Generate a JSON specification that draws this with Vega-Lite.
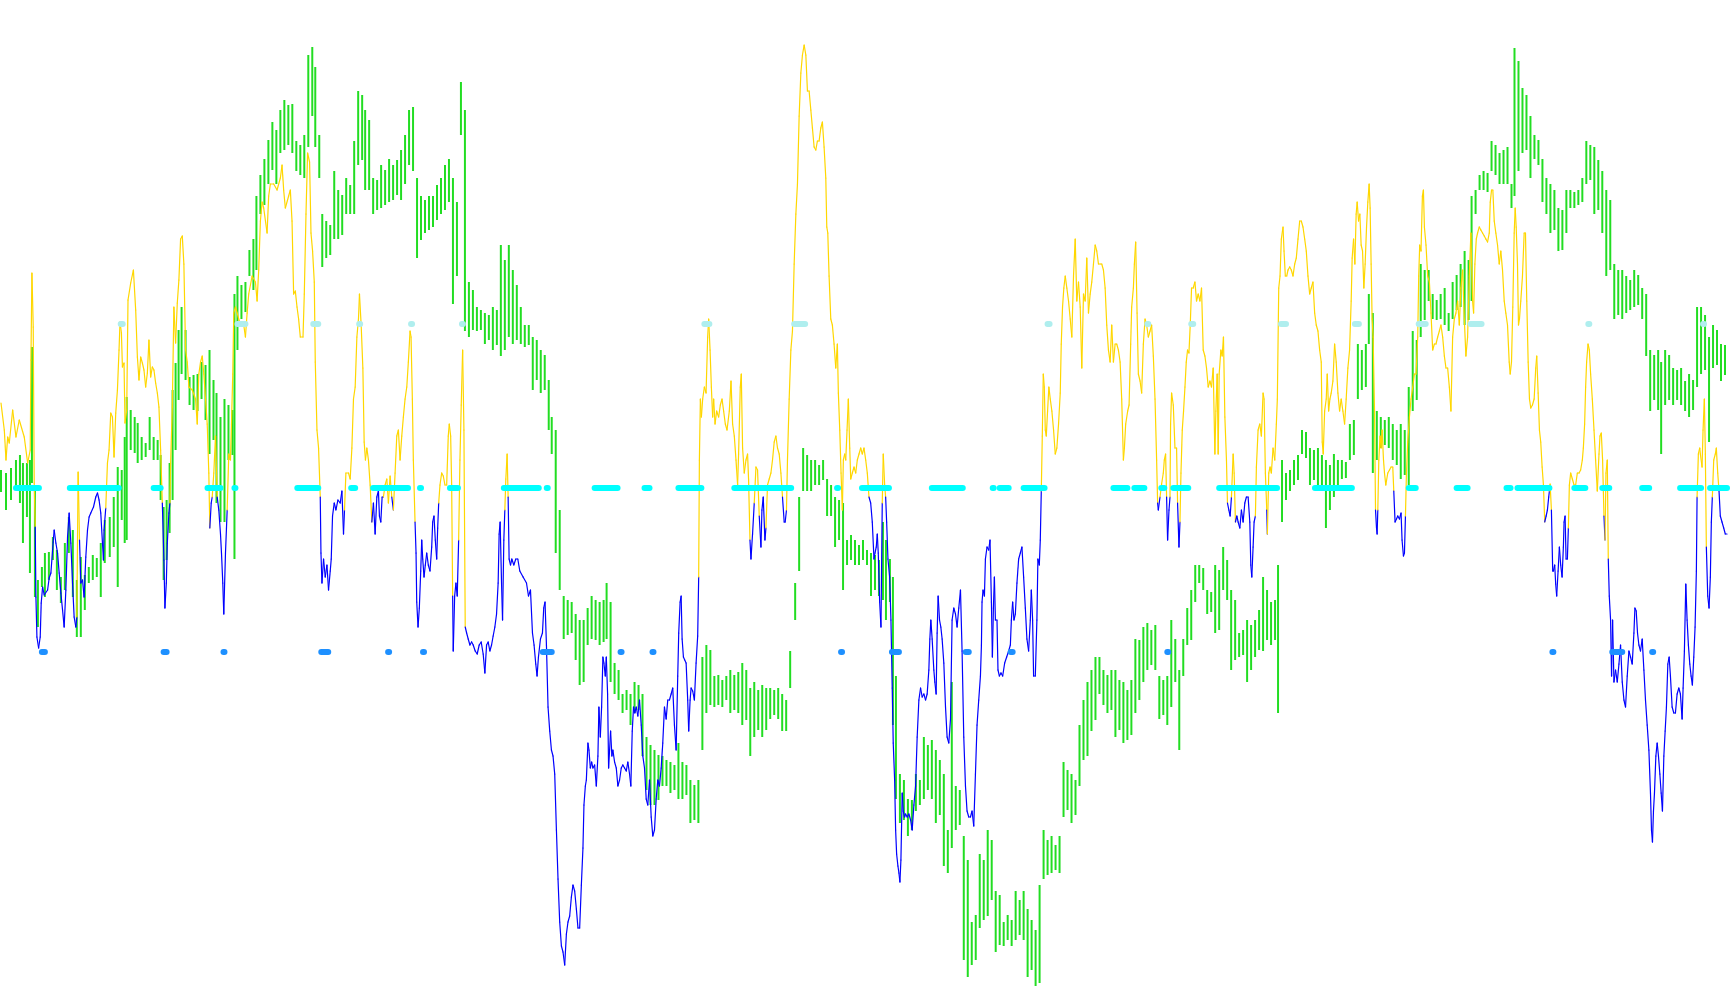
{
"$schema": "https://vega.github.io/schema/vega-lite/v6.json",
"width": 1730, "height": 1005,
"autosize": {"type": "fit", "contains": "padding"},
"padding": 0,
"background": "white",
"config": {"view": {"stroke": null}},
"datasets": {
"bars": [
{"x":0,"top":470,"bot":492},{"x":5,"top":473,"bot":510},{"x":10,"top":468,"bot":500},{"x":15,"top":460,"bot":490},{"x":19,"top":455,"bot":503},{"x":22,"top":463,"bot":543},{"x":26,"top":463,"bot":517},{"x":29,"top":460,"bot":573},{"x":31,"top":347,"bot":483},{"x":34,"top":490,"bot":597},{"x":37,"top":580,"bot":627},{"x":41,"top":567,"bot":587},{"x":44,"top":553,"bot":597},{"x":48,"top":552,"bot":580},{"x":52,"top":537,"bot":560},{"x":56,"top":550,"bot":590},{"x":60,"top":577,"bot":603},{"x":64,"top":543,"bot":590},{"x":68,"top":517,"bot":553},{"x":72,"top":530,"bot":597},{"x":76,"top":580,"bot":637},{"x":80,"top":557,"bot":637},{"x":84,"top":575,"bot":610},{"x":88,"top":567,"bot":583},{"x":92,"top":555,"bot":580},{"x":96,"top":558,"bot":577},{"x":100,"top":543,"bot":597},{"x":104,"top":520,"bot":563},{"x":109,"top":517,"bot":557},{"x":113,"top":497,"bot":547},{"x":117,"top":467,"bot":587},{"x":121,"top":470,"bot":520},{"x":124,"top":437,"bot":543},{"x":126,"top":397,"bot":540},{"x":130,"top":410,"bot":450},{"x":134,"top":417,"bot":453},{"x":137,"top":423,"bot":463},{"x":141,"top":437,"bot":460},{"x":145,"top":443,"bot":457},{"x":149,"top":417,"bot":450},{"x":153,"top":437,"bot":460},{"x":157,"top":440,"bot":460},{"x":160,"top":455,"bot":500},{"x":163,"top":507,"bot":580},{"x":166,"top":500,"bot":560},{"x":169,"top":463,"bot":533},{"x":172,"top":390,"bot":500},{"x":175,"top":363,"bot":450},{"x":178,"top":330,"bot":400},{"x":181,"top":307,"bot":374},{"x":185,"top":330,"bot":380},{"x":189,"top":377,"bot":405},{"x":193,"top":375,"bot":410},{"x":197,"top":374,"bot":411},{"x":201,"top":362,"bot":399},{"x":205,"top":365,"bot":420},{"x":209,"top":350,"bot":454},{"x":213,"top":380,"bot":440},{"x":216,"top":393,"bot":503},{"x":220,"top":417,"bot":522},{"x":224,"top":399,"bot":522},{"x":228,"top":405,"bot":460},{"x":232,"top":410,"bot":455},{"x":234,"top":294,"bot":559},{"x":237,"top":276,"bot":350},{"x":241,"top":285,"bot":319},{"x":245,"top":282,"bot":312},{"x":249,"top":250,"bot":276},{"x":253,"top":239,"bot":290},{"x":256,"top":196,"bot":270},{"x":260,"top":175,"bot":214},{"x":264,"top":159,"bot":205},{"x":268,"top":140,"bot":184},{"x":272,"top":122,"bot":170},{"x":276,"top":130,"bot":184},{"x":280,"top":110,"bot":153},{"x":284,"top":100,"bot":150},{"x":288,"top":105,"bot":145},
{"x":292,"top":104,"bot":153},{"x":296,"top":141,"bot":171},{"x":300,"top":145,"bot":175},{"x":304,"top":135,"bot":178},{"x":308,"top":55,"bot":147},{"x":312,"top":47,"bot":116},{"x":315,"top":67,"bot":147},{"x":319,"top":135,"bot":178},{"x":322,"top":214,"bot":267},{"x":326,"top":221,"bot":258},{"x":330,"top":225,"bot":255},{"x":334,"top":171,"bot":239},{"x":338,"top":190,"bot":239},{"x":342,"top":195,"bot":235},{"x":346,"top":178,"bot":214},{"x":350,"top":185,"bot":214},{"x":354,"top":141,"bot":214},{"x":358,"top":91,"bot":165},{"x":362,"top":95,"bot":160},{"x":365,"top":110,"bot":190},{"x":369,"top":120,"bot":190},{"x":373,"top":178,"bot":214},{"x":377,"top":180,"bot":210},{"x":381,"top":165,"bot":208},{"x":385,"top":170,"bot":205},{"x":389,"top":159,"bot":202},{"x":393,"top":165,"bot":200},{"x":397,"top":160,"bot":195},{"x":401,"top":150,"bot":200},{"x":405,"top":135,"bot":184},{"x":409,"top":110,"bot":165},{"x":413,"top":107,"bot":171},{"x":417,"top":178,"bot":258},{"x":421,"top":196,"bot":240},{"x":425,"top":200,"bot":233},{"x":429,"top":196,"bot":230},{"x":433,"top":196,"bot":227},{"x":437,"top":185,"bot":220},{"x":441,"top":178,"bot":214},{"x":445,"top":165,"bot":210},{"x":449,"top":159,"bot":202},{"x":453,"top":178,"bot":304},{"x":457,"top":202,"bot":276},{"x":461,"top":82,"bot":135},{"x":465,"top":110,"bot":331},{"x":469,"top":282,"bot":337},{"x":473,"top":290,"bot":330},{"x":477,"top":307,"bot":331},{"x":481,"top":310,"bot":330},{"x":485,"top":313,"bot":344},{"x":489,"top":315,"bot":340},{"x":493,"top":307,"bot":350},{"x":497,"top":310,"bot":345},{"x":501,"top":245,"bot":356},{"x":505,"top":260,"bot":350},{"x":509,"top":245,"bot":337},{"x":513,"top":270,"bot":344},{"x":517,"top":285,"bot":340},{"x":521,"top":307,"bot":344},{"x":525,"top":325,"bot":347},{"x":529,"top":325,"bot":345},{"x":533,"top":337,"bot":390},{"x":537,"top":340,"bot":380},{"x":541,"top":350,"bot":393},{"x":545,"top":355,"bot":390},{"x":549,"top":380,"bot":430},{"x":552,"top":417,"bot":454},{"x":556,"top":430,"bot":553},{"x":560,"top":510,"bot":590},{"x":564,"top":596,"bot":639},{"x":568,"top":600,"bot":635},{"x":572,"top":602,"bot":633},{"x":576,"top":614,"bot":660},{"x":580,"top":620,"bot":685},
{"x":584,"top":620,"bot":682},{"x":588,"top":608,"bot":645},{"x":592,"top":596,"bot":639},{"x":596,"top":600,"bot":640},{"x":600,"top":602,"bot":645},{"x":604,"top":600,"bot":642},{"x":607,"top":583,"bot":639},{"x":611,"top":602,"bot":682},{"x":615,"top":663,"bot":694},{"x":619,"top":670,"bot":700},{"x":623,"top":694,"bot":713},{"x":627,"top":690,"bot":710},{"x":631,"top":694,"bot":725},{"x":635,"top":682,"bot":713},{"x":639,"top":685,"bot":710},{"x":643,"top":694,"bot":756},{"x":647,"top":737,"bot":790},{"x":651,"top":745,"bot":805},{"x":655,"top":750,"bot":805},{"x":659,"top":755,"bot":800},{"x":663,"top":756,"bot":786},{"x":667,"top":760,"bot":786},{"x":671,"top":762,"bot":793},{"x":675,"top":765,"bot":790},{"x":679,"top":743,"bot":799},{"x":683,"top":762,"bot":799},{"x":687,"top":765,"bot":795},{"x":691,"top":780,"bot":823},{"x":695,"top":785,"bot":820},{"x":699,"top":780,"bot":823},{"x":703,"top":657,"bot":750},{"x":707,"top":645,"bot":713},{"x":711,"top":650,"bot":705},{"x":715,"top":676,"bot":707},{"x":719,"top":675,"bot":705},{"x":723,"top":680,"bot":707},{"x":727,"top":676,"bot":700},{"x":731,"top":670,"bot":713},{"x":735,"top":675,"bot":710},{"x":739,"top":672,"bot":713},{"x":743,"top":663,"bot":725},{"x":747,"top":670,"bot":720},{"x":751,"top":688,"bot":756},{"x":755,"top":682,"bot":737},{"x":759,"top":690,"bot":730},{"x":763,"top":685,"bot":737},{"x":767,"top":688,"bot":730},{"x":771,"top":688,"bot":719},{"x":775,"top":690,"bot":715},{"x":779,"top":688,"bot":719},{"x":783,"top":694,"bot":731},{"x":787,"top":700,"bot":731},{"x":791,"top":651,"bot":688},{"x":796,"top":583,"bot":620},{"x":800,"top":497,"bot":571},{"x":804,"top":448,"bot":491},{"x":808,"top":455,"bot":491},{"x":812,"top":460,"bot":491},{"x":816,"top":460,"bot":485},{"x":820,"top":465,"bot":485},{"x":824,"top":460,"bot":480},{"x":828,"top":479,"bot":516},{"x":832,"top":485,"bot":516},{"x":836,"top":497,"bot":547},{"x":840,"top":500,"bot":540},{"x":844,"top":503,"bot":590},{"x":848,"top":540,"bot":565},{"x":852,"top":535,"bot":560},{"x":856,"top":540,"bot":565},{"x":860,"top":545,"bot":565},{"x":864,"top":540,"bot":560},{"x":868,"top":550,"bot":565},
{"x":872,"top":553,"bot":596},{"x":876,"top":555,"bot":590},{"x":880,"top":560,"bot":596},{"x":884,"top":522,"bot":600},{"x":887,"top":540,"bot":620},{"x":891,"top":559,"bot":602},{"x":894,"top":577,"bot":725},{"x":897,"top":676,"bot":799},{"x":901,"top":774,"bot":823},{"x":905,"top":780,"bot":820},{"x":909,"top":799,"bot":836},{"x":913,"top":800,"bot":830},{"x":917,"top":774,"bot":811},{"x":921,"top":780,"bot":805},{"x":925,"top":737,"bot":799},{"x":929,"top":745,"bot":790},{"x":933,"top":740,"bot":799},{"x":937,"top":750,"bot":823},{"x":941,"top":760,"bot":815},{"x":945,"top":774,"bot":866},{"x":949,"top":830,"bot":873},{"x":953,"top":682,"bot":848},{"x":957,"top":786,"bot":830},{"x":961,"top":790,"bot":825},{"x":965,"top":836,"bot":960},{"x":969,"top":860,"bot":977},{"x":973,"top":922,"bot":965},{"x":977,"top":915,"bot":960},{"x":981,"top":854,"bot":928},{"x":985,"top":860,"bot":920},{"x":989,"top":830,"bot":916},{"x":993,"top":840,"bot":900},{"x":997,"top":891,"bot":952},{"x":1001,"top":895,"bot":945},{"x":1005,"top":922,"bot":946},{"x":1009,"top":915,"bot":940},{"x":1013,"top":920,"bot":946},{"x":1017,"top":891,"bot":940},{"x":1021,"top":900,"bot":935},{"x":1025,"top":891,"bot":940},{"x":1029,"top":909,"bot":977},{"x":1033,"top":920,"bot":970},{"x":1037,"top":930,"bot":986},{"x":1041,"top":885,"bot":983},{"x":1045,"top":830,"bot":879},{"x":1049,"top":840,"bot":875},{"x":1053,"top":836,"bot":873},{"x":1057,"top":845,"bot":870},{"x":1061,"top":836,"bot":873},{"x":1065,"top":762,"bot":817},{"x":1069,"top":770,"bot":810},{"x":1073,"top":774,"bot":823},{"x":1077,"top":780,"bot":815},{"x":1081,"top":725,"bot":786},{"x":1085,"top":700,"bot":760},{"x":1089,"top":682,"bot":756},{"x":1093,"top":670,"bot":731},{"x":1097,"top":657,"bot":720},{"x":1101,"top":657,"bot":694},{"x":1105,"top":670,"bot":705},{"x":1109,"top":675,"bot":713},{"x":1113,"top":670,"bot":710},{"x":1117,"top":670,"bot":737},{"x":1121,"top":680,"bot":730},{"x":1125,"top":682,"bot":743},{"x":1129,"top":690,"bot":740},{"x":1133,"top":680,"bot":735},{"x":1137,"top":639,"bot":713},{"x":1141,"top":640,"bot":700},{"x":1145,"top":627,"bot":682},{"x":1149,"top":623,"bot":670},{"x":1153,"top":630,"bot":665},{"x":1157,"top":625,"bot":670},
{"x":1161,"top":676,"bot":719},{"x":1165,"top":680,"bot":715},{"x":1169,"top":676,"bot":725},{"x":1173,"top":620,"bot":707},{"x":1177,"top":639,"bot":682},{"x":1181,"top":670,"bot":750},{"x":1185,"top":639,"bot":676},{"x":1189,"top":608,"bot":645},{"x":1193,"top":590,"bot":640},{"x":1197,"top":565,"bot":602},{"x":1201,"top":565,"bot":583},{"x":1205,"top":568,"bot":590},{"x":1209,"top":590,"bot":614},{"x":1213,"top":592,"bot":612},{"x":1217,"top":565,"bot":633},{"x":1221,"top":570,"bot":630},{"x":1225,"top":547,"bot":590},{"x":1229,"top":560,"bot":600},{"x":1233,"top":590,"bot":670},{"x":1237,"top":600,"bot":660},{"x":1241,"top":633,"bot":657},{"x":1245,"top":630,"bot":655},{"x":1249,"top":620,"bot":682},{"x":1253,"top":625,"bot":670},{"x":1257,"top":620,"bot":657},{"x":1261,"top":610,"bot":650},{"x":1265,"top":577,"bot":651},{"x":1269,"top":590,"bot":640},{"x":1273,"top":602,"bot":645},{"x":1277,"top":600,"bot":640},{"x":1280,"top":565,"bot":713},{"x":1284,"top":460,"bot":522},{"x":1288,"top":473,"bot":500},{"x":1292,"top":470,"bot":491},{"x":1296,"top":460,"bot":485},{"x":1300,"top":455,"bot":480},{"x":1304,"top":430,"bot":454},{"x":1308,"top":432,"bot":458},{"x":1312,"top":448,"bot":485},{"x":1316,"top":450,"bot":480},{"x":1320,"top":448,"bot":485},{"x":1324,"top":455,"bot":490},{"x":1328,"top":460,"bot":528},{"x":1332,"top":465,"bot":510},{"x":1336,"top":454,"bot":497},{"x":1340,"top":460,"bot":490},{"x":1344,"top":460,"bot":479},{"x":1348,"top":462,"bot":478},{"x":1352,"top":424,"bot":460},{"x":1356,"top":420,"bot":455},{"x":1360,"top":344,"bot":399},{"x":1364,"top":350,"bot":390},{"x":1368,"top":344,"bot":387},{"x":1371,"top":294,"bot":344},{"x":1375,"top":313,"bot":473},{"x":1379,"top":411,"bot":460},{"x":1383,"top":417,"bot":448},{"x":1387,"top":420,"bot":445},{"x":1391,"top":417,"bot":448},{"x":1395,"top":424,"bot":460},{"x":1399,"top":430,"bot":465},{"x":1403,"top":424,"bot":479},{"x":1407,"top":430,"bot":475},{"x":1411,"top":387,"bot":485},{"x":1415,"top":331,"bot":411},{"x":1419,"top":340,"bot":400},{"x":1423,"top":264,"bot":337},{"x":1427,"top":270,"bot":320},{"x":1431,"top":270,"bot":301},{"x":1435,"top":294,"bot":319},{"x":1439,"top":300,"bot":320},{"x":1443,"top":294,"bot":319},{"x":1447,"top":288,"bot":325},
{"x":1451,"top":313,"bot":331},{"x":1455,"top":282,"bot":319},{"x":1459,"top":275,"bot":310},{"x":1463,"top":264,"bot":307},{"x":1467,"top":251,"bot":325},{"x":1471,"top":260,"bot":320},{"x":1474,"top":196,"bot":301},{"x":1478,"top":190,"bot":214},{"x":1482,"top":175,"bot":190},{"x":1486,"top":171,"bot":190},{"x":1490,"top":173,"bot":192},{"x":1494,"top":141,"bot":171},{"x":1498,"top":145,"bot":175},{"x":1502,"top":153,"bot":184},{"x":1506,"top":150,"bot":184},{"x":1510,"top":147,"bot":184},{"x":1514,"top":184,"bot":208},{"x":1517,"top":48,"bot":196},{"x":1521,"top":61,"bot":171},{"x":1525,"top":88,"bot":153},{"x":1529,"top":95,"bot":150},{"x":1533,"top":116,"bot":178},{"x":1537,"top":135,"bot":159},{"x":1541,"top":140,"bot":165},{"x":1545,"top":159,"bot":202},{"x":1549,"top":178,"bot":214},{"x":1553,"top":184,"bot":233},{"x":1557,"top":190,"bot":230},{"x":1561,"top":208,"bot":251},{"x":1565,"top":210,"bot":250},{"x":1569,"top":190,"bot":233},{"x":1573,"top":190,"bot":208},{"x":1577,"top":192,"bot":208},{"x":1581,"top":190,"bot":205},{"x":1585,"top":178,"bot":202},{"x":1589,"top":141,"bot":184},{"x":1593,"top":145,"bot":180},{"x":1597,"top":147,"bot":214},{"x":1601,"top":160,"bot":210},{"x":1605,"top":171,"bot":233},{"x":1609,"top":190,"bot":276},{"x":1613,"top":200,"bot":270},{"x":1617,"top":264,"bot":319},{"x":1621,"top":270,"bot":315},{"x":1625,"top":270,"bot":319},{"x":1629,"top":276,"bot":313},{"x":1633,"top":280,"bot":310},{"x":1637,"top":270,"bot":307},{"x":1641,"top":275,"bot":305},{"x":1645,"top":288,"bot":319},{"x":1649,"top":294,"bot":356},{"x":1653,"top":350,"bot":411},{"x":1657,"top":355,"bot":400},{"x":1661,"top":350,"bot":410},{"x":1664,"top":362,"bot":454},{"x":1668,"top":350,"bot":405},{"x":1672,"top":355,"bot":400},{"x":1676,"top":368,"bot":405},{"x":1680,"top":370,"bot":400},{"x":1684,"top":368,"bot":405},{"x":1688,"top":381,"bot":411},{"x":1692,"top":374,"bot":417},{"x":1696,"top":380,"bot":410},{"x":1700,"top":307,"bot":387},{"x":1704,"top":307,"bot":374},{"x":1708,"top":315,"bot":370},{"x":1712,"top":337,"bot":442},{"x":1716,"top":325,"bot":368},{"x":1720,"top":330,"bot":365},{"x":1724,"top":344,"bot":381},{"x":1728,"top":345,"bot":375}
],
"osc": [
{"x":0,"y":403},{"x":3.3,"y":430},{"x":5,"y":460},{"x":6.7,"y":437},{"x":8.3,"y":443},{"x":11.7,"y":410},{"x":15,"y":437},{"x":18.3,"y":420},{"x":23.3,"y":437},{"x":26.7,"y":463},{"x":29.3,"y":450},{"x":30,"y":360},{"x":31,"y":273},{"x":32.3,"y":327},{"x":33.3,"y":483},{"x":34.3,"y":527},{"x":35,"y":597},{"x":36,"y":637},{"x":37.7,"y":648},{"x":39.3,"y":637},{"x":40.3,"y":603},{"x":41.7,"y":587},{"x":43.3,"y":595},{"x":46.7,"y":590},{"x":48.3,"y":578},{"x":50,"y":573},{"x":52.3,"y":542},{"x":53.3,"y":530},{"x":55,"y":543},{"x":56.7,"y":553},{"x":58.3,"y":573},{"x":60,"y":593},{"x":61.7,"y":610},{"x":63.3,"y":627},{"x":65,"y":590},{"x":66.7,"y":537},{"x":68.3,"y":513},{"x":70,"y":543},{"x":71.7,"y":583},{"x":73.3,"y":617},{"x":75,"y":627},{"x":76,"y":617},{"x":77.3,"y":472},{"x":78.7,"y":540},{"x":80,"y":583},{"x":81.7,"y":580},{"x":83.3,"y":597},{"x":85,"y":557},{"x":86.7,"y":530},{"x":88.3,"y":517},{"x":90,"y":513},{"x":92.7,"y":507},{"x":95,"y":497},{"x":96.7,"y":493},{"x":98.3,"y":500},{"x":100,"y":513},{"x":101.7,"y":543},{"x":102.7,"y":560},{"x":103.3,"y":530},{"x":105,"y":508},{"x":106.7,"y":463},{"x":108.3,"y":450},{"x":110,"y":413},{"x":111.7,"y":417},{"x":113.3,"y":457},{"x":115,"y":413},{"x":116.7,"y":390},{"x":118.3,"y":350},{"x":119.3,"y":322},{"x":120.7,"y":333},{"x":121.7,"y":367},{"x":123.3,"y":363},{"x":124.3,"y":423},{"x":126,"y":410},{"x":127.3,"y":300},{"x":130,"y":283},{"x":132.7,"y":270},{"x":135,"y":310},{"x":136.7,"y":357},{"x":138.3,"y":380},{"x":140,"y":357},{"x":141.7,"y":363},{"x":143.3,"y":370},{"x":145,"y":387},{"x":146.7,"y":373},{"x":148.3,"y":340},{"x":150,"y":377},{"x":151.7,"y":367},{"x":153.3,"y":370},{"x":155,"y":383},{"x":156.7,"y":393},{"x":158.3,"y":407},{"x":160,"y":450},{"x":161.7,"y":503},{"x":163.3,"y":560},{"x":164.3,"y":608},{"x":165.7,"y":583},{"x":166.7,"y":543},{"x":168.3,"y":513},{"x":169.3,"y":503},{"x":170,"y":463},{"x":171.7,"y":407},{"x":173.3,"y":307},{"x":175,"y":343},{"x":176.7,"y":303},{"x":178.3,"y":280},{"x":180,"y":239},{"x":181.7,"y":236},{"x":183.3,"y":264},{"x":185,"y":350},{"x":186.7,"y":362},{"x":188.3,"y":387},{"x":191.7,"y":390},{"x":195,"y":399},{"x":196.7,"y":424},{"x":198.3,"y":374},{"x":200,"y":362},{"x":201.7,"y":356},{"x":203.3,"y":374},{"x":205,"y":399},{"x":206.7,"y":424},{"x":208.3,"y":473},{"x":209.3,"y":528},{"x":210.7,"y":503},{"x":211.7,"y":497},{"x":213.3,"y":473},{"x":215,"y":436},{"x":216.7,"y":497},{"x":218.3,"y":510},{"x":220,"y":534},{"x":221,"y":553},{"x":222.3,"y":583},{"x":223.3,"y":614},{"x":225,"y":553},{"x":226,"y":528},{"x":226.7,"y":510},{"x":228.3,"y":454},{"x":230,"y":460},{"x":231,"y":424},{"x":232.3,"y":374},{"x":233.3,"y":313},{"x":235,"y":307},{"x":236.7,"y":313},{"x":240,"y":325},{"x":243.3,"y":325},{"x":245,"y":337},{"x":246.7,"y":313},{"x":248.3,"y":294},{"x":251.7,"y":276},{"x":255,"y":282},{"x":256.7,"y":301},{"x":258.3,"y":270},{"x":260,"y":221},{"x":261.7,"y":202},{"x":263.3,"y":208},{"x":266.7,"y":233},{"x":268.3,"y":196},{"x":270,"y":184},{"x":273.3,"y":184},{"x":276.7,"y":190},{"x":280,"y":178},{"x":281.7,"y":165},{"x":283.3,"y":190},{"x":285,"y":208},{"x":288.3,"y":196},
{"x":290,"y":190},{"x":291.7,"y":221},{"x":293.3,"y":294},{"x":295,"y":291},{"x":296.7,"y":307},{"x":298.3,"y":319},{"x":300,"y":337},{"x":302.7,"y":337},{"x":304,"y":294},{"x":305.7,"y":214},{"x":307.3,"y":153},{"x":309.3,"y":162},{"x":310.7,"y":233},{"x":312.3,"y":251},{"x":314,"y":282},{"x":315,"y":362},{"x":316.7,"y":430},{"x":318.3,"y":448},{"x":320,"y":497},{"x":320.7,"y":553},{"x":321.7,"y":583},{"x":323.3,"y":559},{"x":325,"y":577},{"x":326.7,"y":565},{"x":328.3,"y":590},{"x":330,"y":571},{"x":331,"y":559},{"x":332.3,"y":516},{"x":334,"y":503},{"x":335.7,"y":510},{"x":337.7,"y":500},{"x":340,"y":503},{"x":341.7,"y":491},{"x":343.3,"y":534},{"x":344.3,"y":510},{"x":345.7,"y":473},{"x":348.3,"y":473},{"x":350,"y":479},{"x":351.7,"y":448},{"x":353.3,"y":399},{"x":355,"y":387},{"x":356.7,"y":337},{"x":358.3,"y":319},{"x":359.3,"y":294},{"x":361,"y":325},{"x":362.7,"y":368},{"x":364,"y":442},{"x":365.3,"y":460},{"x":366.7,"y":448},{"x":368.3,"y":460},{"x":370,"y":485},{"x":371.7,"y":522},{"x":373.3,"y":503},{"x":375,"y":534},{"x":376.7,"y":497},{"x":378.3,"y":491},{"x":379.3,"y":516},{"x":380.7,"y":522},{"x":382,"y":497},{"x":383.3,"y":497},{"x":385,"y":485},{"x":386.7,"y":479},{"x":388.3,"y":503},{"x":390,"y":476},{"x":391.7,"y":497},{"x":393.3,"y":510},{"x":395,"y":473},{"x":396.7,"y":436},{"x":398.3,"y":430},{"x":400,"y":460},{"x":401.7,"y":436},{"x":403.3,"y":417},{"x":405,"y":399},{"x":406.7,"y":387},{"x":408.3,"y":362},{"x":410,"y":331},{"x":411,"y":337},{"x":412.3,"y":399},{"x":413.3,"y":460},{"x":415,"y":522},{"x":416,"y":553},{"x":416.7,"y":602},{"x":418,"y":627},{"x":419.3,"y":608},{"x":420.7,"y":571},{"x":421.7,"y":540},{"x":422.7,"y":559},{"x":424,"y":577},{"x":425.3,"y":565},{"x":426.7,"y":553},{"x":428.3,"y":565},{"x":430,"y":571},{"x":431.7,"y":547},{"x":432.7,"y":522},{"x":434,"y":516},{"x":435.3,"y":540},{"x":436.7,"y":559},{"x":437.7,"y":528},{"x":438.7,"y":503},{"x":440,"y":485},{"x":441.7,"y":473},{"x":443.3,"y":476},{"x":445,"y":485},{"x":446.7,"y":485},{"x":448.3,"y":436},{"x":449.3,"y":424},{"x":450.7,"y":436},{"x":451.7,"y":485},{"x":452.7,"y":596},{"x":453.3,"y":651},{"x":454.7,"y":596},{"x":456,"y":583},{"x":457.3,"y":596},{"x":458.7,"y":540},{"x":460,"y":460},{"x":461.3,"y":405},{"x":462.7,"y":350},{"x":464,"y":430},{"x":465.3,"y":627},{"x":466.7,"y":633},{"x":468.3,"y":639},{"x":470,"y":645},{"x":471.7,"y":642},{"x":473.3,"y":645},{"x":475.3,"y":651},{"x":477.3,"y":654},{"x":479.3,"y":645},{"x":481.3,"y":642},{"x":483.3,"y":654},{"x":485,"y":673},{"x":486.7,"y":645},{"x":488.3,"y":642},{"x":490,"y":651},{"x":491.7,"y":645},{"x":493.3,"y":636},{"x":495,"y":627},{"x":496.7,"y":614},{"x":498.3,"y":583},{"x":499.3,"y":534},{"x":500.3,"y":522},{"x":501.7,"y":583},{"x":502.7,"y":620},{"x":504,"y":540},{"x":505,"y":510},{"x":506,"y":479},{"x":507.3,"y":454},{"x":508.3,"y":497},{"x":509.3,"y":559},{"x":510.7,"y":565},{"x":512,"y":559},{"x":514,"y":565},{"x":516,"y":559},{"x":518,"y":559},{"x":520,"y":571},{"x":523.3,"y":577},{"x":526.7,"y":583},{"x":528.7,"y":596},{"x":530.7,"y":590},{"x":532.7,"y":633},{"x":534.3,"y":645},{"x":536,"y":664},{"x":537.3,"y":676},{"x":538.7,"y":657},{"x":540.7,"y":639},{"x":542.7,"y":633},{"x":544,"y":608},{"x":545.3,"y":602},{"x":546.7,"y":645},{"x":548.3,"y":707},{"x":550,"y":731},{"x":551.7,"y":750},{"x":553.3,"y":756},{"x":555,"y":774},{"x":556.7,"y":830},{"x":558.3,"y":879},{"x":560,"y":922},{"x":561.7,"y":946},{"x":563.3,"y":952},{"x":565,"y":965},{"x":566.7,"y":934},{"x":568.3,"y":922},{"x":570,"y":916},{"x":571.7,"y":897},{"x":573.3,"y":885},{"x":575,"y":891},{"x":576.7,"y":909},{"x":578.3,"y":928},
{"x":580,"y":928},{"x":581.7,"y":885},{"x":583.3,"y":848},{"x":584.3,"y":805},{"x":585.7,"y":786},{"x":586.7,"y":780},{"x":588.3,"y":743},{"x":589.3,"y":750},{"x":590.7,"y":768},{"x":592,"y":762},{"x":593.3,"y":768},{"x":595,"y":765},{"x":596.7,"y":786},{"x":598.3,"y":756},{"x":599.3,"y":707},{"x":600.7,"y":737},{"x":602,"y":707},{"x":603.3,"y":657},{"x":604.3,"y":663},{"x":605.7,"y":676},{"x":606.7,"y":657},{"x":608,"y":694},{"x":609,"y":768},{"x":610,"y":750},{"x":611,"y":731},{"x":612.3,"y":756},{"x":613.3,"y":750},{"x":615,"y":762},{"x":616.7,"y":768},{"x":618.3,"y":786},{"x":620,"y":780},{"x":621.7,"y":768},{"x":623.3,"y":765},{"x":625,"y":768},{"x":626.7,"y":771},{"x":628.3,"y":762},{"x":630,"y":774},{"x":631.3,"y":786},{"x":632.7,"y":731},{"x":634,"y":707},{"x":635.3,"y":713},{"x":636.7,"y":707},{"x":638.3,"y":716},{"x":640,"y":700},{"x":641.7,"y":725},{"x":643.3,"y":756},{"x":645,"y":768},{"x":646.7,"y":799},{"x":648.3,"y":805},{"x":650,"y":780},{"x":651.7,"y":817},{"x":653.3,"y":836},{"x":655,"y":830},{"x":656.7,"y":799},{"x":658.3,"y":780},{"x":660,"y":786},{"x":661.7,"y":768},{"x":663.3,"y":743},{"x":665,"y":707},{"x":666.7,"y":719},{"x":668.3,"y":700},{"x":670,"y":700},{"x":671.7,"y":694},{"x":673.3,"y":688},{"x":675,"y":725},{"x":676.7,"y":750},{"x":678.3,"y":676},{"x":679.3,"y":633},{"x":680.7,"y":602},{"x":681.7,"y":596},{"x":682.7,"y":639},{"x":684,"y":657},{"x":685.3,"y":660},{"x":686.7,"y":663},{"x":688.3,"y":700},{"x":689.3,"y":731},{"x":690.7,"y":700},{"x":691.7,"y":688},{"x":693.3,"y":691},{"x":695,"y":700},{"x":696.7,"y":663},{"x":698.3,"y":636},{"x":699.3,"y":577},{"x":700,"y":460},{"x":701,"y":399},{"x":702,"y":417},{"x":703.3,"y":399},{"x":705,"y":387},{"x":706.7,"y":393},{"x":708.3,"y":337},{"x":709.3,"y":319},{"x":710.7,"y":350},{"x":712,"y":387},{"x":713.3,"y":417},{"x":714.3,"y":399},{"x":715.7,"y":424},{"x":717.3,"y":411},{"x":719.3,"y":417},{"x":721,"y":405},{"x":722.7,"y":399},{"x":724.3,"y":411},{"x":726,"y":424},{"x":727.7,"y":430},{"x":730,"y":411},{"x":731.7,"y":381},{"x":733.3,"y":424},{"x":735,"y":436},{"x":736.7,"y":460},{"x":738.3,"y":485},{"x":739.3,"y":454},{"x":741,"y":387},{"x":742,"y":374},{"x":743.3,"y":448},{"x":745,"y":473},{"x":746.7,"y":460},{"x":748.3,"y":454},{"x":749.3,"y":479},{"x":750.7,"y":540},{"x":751.7,"y":559},{"x":753.3,"y":534},{"x":755,"y":503},{"x":756.7,"y":467},{"x":758.3,"y":470},{"x":760,"y":516},{"x":761.7,"y":547},{"x":762.7,"y":510},{"x":764,"y":497},{"x":765.7,"y":540},{"x":766.7,"y":528},{"x":768.3,"y":485},{"x":770,"y":479},{"x":771.7,"y":473},{"x":773.3,"y":460},{"x":775,"y":442},{"x":776.7,"y":436},{"x":778.3,"y":448},{"x":780,"y":454},{"x":781.7,"y":473},{"x":783.3,"y":497},{"x":785,"y":522},{"x":786,"y":522},{"x":787.3,"y":510},{"x":788.3,"y":460},{"x":790,"y":399},{"x":791.7,"y":350},{"x":793.3,"y":331},{"x":795,"y":264},{"x":796.7,"y":214},{"x":798.3,"y":184},{"x":800,"y":116},{"x":801.7,"y":73},{"x":803.3,"y":55},{"x":805,"y":45},{"x":806.7,"y":55},{"x":808.3,"y":91},{"x":810,"y":91},{"x":811.7,"y":110},{"x":813.3,"y":128},{"x":815,"y":147},{"x":816.7,"y":150},{"x":818.3,"y":141},{"x":820,"y":141},{"x":821.7,"y":128},{"x":823.3,"y":122},{"x":825,"y":147},{"x":826.7,"y":178},{"x":827.7,"y":227},{"x":828.7,"y":233},{"x":830,"y":276},{"x":831.7,"y":319},{"x":833.3,"y":325},{"x":835,"y":344},{"x":836.7,"y":368},{"x":838.3,"y":344},{"x":839.3,"y":393},{"x":840.7,"y":430},{"x":842,"y":473},{"x":843.3,"y":510},{"x":844.3,"y":460},{"x":845.7,"y":454},{"x":846.7,"y":460},{"x":848,"y":430},{"x":849.3,"y":399},{"x":850.7,"y":448},{"x":851.7,"y":479},{"x":853.3,"y":473},{"x":855,"y":467},{"x":856.7,"y":473},{"x":858.3,"y":460},{"x":860,"y":454},{"x":861.7,"y":448},{"x":863.3,"y":454},{"x":865,"y":448},{"x":866.7,"y":460},{"x":868.3,"y":473},{"x":870,"y":497},
{"x":871.7,"y":503},{"x":873.3,"y":522},{"x":875,"y":559},{"x":876,"y":553},{"x":877.3,"y":547},{"x":878.3,"y":534},{"x":879.3,"y":553},{"x":880.7,"y":602},{"x":882,"y":627},{"x":883.3,"y":503},{"x":884.3,"y":454},{"x":885.7,"y":485},{"x":886.7,"y":497},{"x":887.7,"y":522},{"x":889,"y":559},{"x":890.7,"y":577},{"x":892,"y":620},{"x":893.3,"y":688},{"x":894.3,"y":743},{"x":895.7,"y":780},{"x":896.7,"y":830},{"x":897.7,"y":854},{"x":899,"y":866},{"x":900,"y":873},{"x":901,"y":882},{"x":902,"y":860},{"x":903.3,"y":793},{"x":904.3,"y":811},{"x":905.7,"y":817},{"x":906.7,"y":814},{"x":908.3,"y":817},{"x":910,"y":814},{"x":911.7,"y":820},{"x":913.3,"y":830},{"x":915,"y":805},{"x":916.7,"y":786},{"x":918.3,"y":737},{"x":920,"y":700},{"x":921.7,"y":688},{"x":923.3,"y":697},{"x":925,"y":694},{"x":926.7,"y":700},{"x":928.3,"y":694},{"x":930,"y":670},{"x":931,"y":639},{"x":932,"y":620},{"x":933.3,"y":639},{"x":935,"y":670},{"x":936,"y":682},{"x":937.3,"y":694},{"x":938.3,"y":633},{"x":939.3,"y":596},{"x":940.7,"y":620},{"x":942,"y":627},{"x":943.3,"y":639},{"x":945,"y":663},{"x":946.7,"y":707},{"x":948.3,"y":737},{"x":950,"y":743},{"x":951.7,"y":719},{"x":953.3,"y":620},{"x":955,"y":608},{"x":956.7,"y":614},{"x":958.3,"y":627},{"x":960,"y":608},{"x":961.7,"y":590},{"x":963.3,"y":651},{"x":965,"y":737},{"x":966.7,"y":786},{"x":968.3,"y":811},{"x":970,"y":817},{"x":971.7,"y":817},{"x":973.3,"y":811},{"x":975,"y":826},{"x":976.7,"y":774},{"x":978.3,"y":725},{"x":980,"y":700},{"x":981.7,"y":676},{"x":982.7,"y":645},{"x":983.3,"y":602},{"x":984.3,"y":590},{"x":985.7,"y":596},{"x":986.7,"y":559},{"x":988.3,"y":547},{"x":990,"y":550},{"x":991.3,"y":540},{"x":992.7,"y":602},{"x":993.7,"y":657},{"x":994.7,"y":608},{"x":995.7,"y":577},{"x":996.7,"y":620},{"x":998.3,"y":620},{"x":999.3,"y":670},{"x":1000.7,"y":676},{"x":1002.3,"y":673},{"x":1004,"y":676},{"x":1006,"y":663},{"x":1008,"y":657},{"x":1010,"y":651},{"x":1011.7,"y":645},{"x":1012.7,"y":620},{"x":1014,"y":602},{"x":1015.3,"y":620},{"x":1016.7,"y":614},{"x":1018.3,"y":583},{"x":1020,"y":559},{"x":1021.7,"y":553},{"x":1023.3,"y":547},{"x":1025,"y":577},{"x":1026.7,"y":608},{"x":1028.3,"y":639},{"x":1030,"y":651},{"x":1031.7,"y":620},{"x":1032.7,"y":590},{"x":1034,"y":620},{"x":1035,"y":676},{"x":1036.7,"y":676},{"x":1038.3,"y":620},{"x":1039.3,"y":559},{"x":1040.7,"y":565},{"x":1041.7,"y":540},{"x":1042.7,"y":491},{"x":1043.7,"y":436},{"x":1044.7,"y":374},{"x":1045.7,"y":387},{"x":1046.7,"y":430},{"x":1047.7,"y":436},{"x":1049,"y":411},{"x":1050.3,"y":387},{"x":1051.7,"y":399},{"x":1053.3,"y":411},{"x":1055,"y":430},{"x":1056.7,"y":454},{"x":1058.3,"y":448},{"x":1060,"y":424},{"x":1061.7,"y":393},{"x":1062.7,"y":344},{"x":1064,"y":307},{"x":1065.3,"y":288},{"x":1066.7,"y":276},{"x":1068.3,"y":288},{"x":1070,"y":301},{"x":1071.7,"y":319},{"x":1073.3,"y":337},{"x":1075,"y":276},{"x":1076.7,"y":239},{"x":1078.3,"y":301},{"x":1080,"y":282},{"x":1081.7,"y":307},{"x":1083.3,"y":368},{"x":1085,"y":294},{"x":1086.7,"y":301},{"x":1088.3,"y":258},{"x":1090,"y":313},{"x":1091.7,"y":294},{"x":1093.3,"y":282},{"x":1095,"y":264},{"x":1096.7,"y":245},{"x":1098.3,"y":251},{"x":1100,"y":264},{"x":1101.7,"y":264},{"x":1103.3,"y":264},{"x":1105,"y":270},{"x":1106.7,"y":288},{"x":1108.3,"y":325},{"x":1110,"y":350},{"x":1111.7,"y":362},{"x":1113.3,"y":325},{"x":1115,"y":362},{"x":1116.7,"y":344},{"x":1118.3,"y":344},{"x":1120,"y":350},{"x":1121.7,"y":362},{"x":1123.3,"y":399},{"x":1125,"y":460},{"x":1126,"y":448},{"x":1127.3,"y":424},{"x":1129.3,"y":411},{"x":1130.7,"y":405},{"x":1132.3,"y":344},{"x":1133.3,"y":307},{"x":1135,"y":288},{"x":1136,"y":264},{"x":1137.3,"y":242},{"x":1138.7,"y":313},{"x":1140,"y":374},{"x":1141.7,"y":381},{"x":1143.3,"y":393},{"x":1145,"y":344},{"x":1146.7,"y":319},{"x":1148.3,"y":325},{"x":1150,"y":337},{"x":1151.7,"y":331},{"x":1153.3,"y":325},{"x":1155,"y":356},{"x":1156.7,"y":399},{"x":1158.3,"y":460},{"x":1159.3,"y":503},{"x":1160,"y":510},
{"x":1161.7,"y":497},{"x":1163.3,"y":484},{"x":1165,"y":473},{"x":1166,"y":460},{"x":1167.3,"y":454},{"x":1168.3,"y":497},{"x":1169.3,"y":540},{"x":1170.7,"y":510},{"x":1171.7,"y":497},{"x":1172.3,"y":424},{"x":1173.3,"y":393},{"x":1175,"y":405},{"x":1176.7,"y":448},{"x":1178.3,"y":448},{"x":1179.3,"y":503},{"x":1180.7,"y":547},{"x":1181.7,"y":522},{"x":1182.7,"y":473},{"x":1184,"y":430},{"x":1185.3,"y":411},{"x":1186.7,"y":387},{"x":1188,"y":362},{"x":1189.3,"y":350},{"x":1190.7,"y":353},{"x":1192,"y":325},{"x":1193.3,"y":288},{"x":1195,"y":288},{"x":1196.7,"y":282},{"x":1198.3,"y":301},{"x":1200,"y":294},{"x":1201.7,"y":301},{"x":1203.3,"y":288},{"x":1205,"y":350},{"x":1206.7,"y":356},{"x":1208.3,"y":368},{"x":1210,"y":387},{"x":1211.7,"y":381},{"x":1213.3,"y":387},{"x":1215,"y":368},{"x":1216.7,"y":454},{"x":1217.7,"y":411},{"x":1219,"y":374},{"x":1220,"y":454},{"x":1221,"y":374},{"x":1222.7,"y":350},{"x":1224,"y":356},{"x":1225.3,"y":337},{"x":1226.7,"y":417},{"x":1228.3,"y":460},{"x":1229.3,"y":503},{"x":1230.7,"y":510},{"x":1232,"y":516},{"x":1233.3,"y":497},{"x":1235,"y":454},{"x":1236,"y":473},{"x":1237.3,"y":522},{"x":1238.7,"y":516},{"x":1240,"y":522},{"x":1241.7,"y":528},{"x":1243.3,"y":510},{"x":1245,"y":522},{"x":1246.7,"y":503},{"x":1248.3,"y":497},{"x":1250,"y":497},{"x":1251.7,"y":522},{"x":1252.7,"y":565},{"x":1253.7,"y":577},{"x":1255,"y":547},{"x":1256,"y":522},{"x":1257.3,"y":516},{"x":1258.3,"y":467},{"x":1260,"y":430},{"x":1261.7,"y":424},{"x":1263.3,"y":436},{"x":1265,"y":393},{"x":1266,"y":399},{"x":1267.3,"y":473},{"x":1268.7,"y":510},{"x":1269.3,"y":534},{"x":1270.7,"y":473},{"x":1272,"y":467},{"x":1273.3,"y":473},{"x":1275,"y":448},{"x":1276.7,"y":460},{"x":1278.3,"y":424},{"x":1279.3,"y":399},{"x":1280.7,"y":288},{"x":1282,"y":276},{"x":1283.3,"y":239},{"x":1285,"y":227},{"x":1286,"y":251},{"x":1287.3,"y":276},{"x":1288.7,"y":276},{"x":1290,"y":270},{"x":1291.7,"y":267},{"x":1293.3,"y":270},{"x":1295,"y":276},{"x":1296.7,"y":264},{"x":1298.3,"y":258},{"x":1300,"y":239},{"x":1301.7,"y":221},{"x":1303.3,"y":221},{"x":1305,"y":227},{"x":1306.7,"y":239},{"x":1308.3,"y":251},{"x":1310,"y":276},{"x":1311.7,"y":294},{"x":1313.3,"y":288},{"x":1315,"y":282},{"x":1316.7,"y":313},{"x":1318.3,"y":325},{"x":1320,"y":331},{"x":1321.7,"y":350},{"x":1323.3,"y":362},{"x":1324.3,"y":442},{"x":1325.3,"y":454},{"x":1326.7,"y":411},{"x":1328.3,"y":399},{"x":1329.3,"y":374},{"x":1330.7,"y":411},{"x":1332,"y":399},{"x":1333.3,"y":393},{"x":1335,"y":381},{"x":1336.7,"y":344},{"x":1338.3,"y":362},{"x":1340,"y":393},{"x":1341.7,"y":411},{"x":1343.3,"y":399},{"x":1345,"y":411},{"x":1346.7,"y":424},{"x":1348.3,"y":399},{"x":1350,"y":368},{"x":1351.7,"y":350},{"x":1353.3,"y":301},{"x":1354.3,"y":258},{"x":1355.7,"y":239},{"x":1357,"y":264},{"x":1358.3,"y":214},{"x":1359.3,"y":202},{"x":1360.7,"y":221},{"x":1362,"y":214},{"x":1363.3,"y":245},{"x":1364.7,"y":251},{"x":1366,"y":288},{"x":1367.3,"y":264},{"x":1368.7,"y":227},{"x":1370,"y":202},{"x":1371.3,"y":184},{"x":1372.3,"y":208},{"x":1373.3,"y":264},{"x":1374.3,"y":319},{"x":1375.3,"y":337},{"x":1376.7,"y":411},{"x":1377.7,"y":510},{"x":1378.7,"y":528},{"x":1379.3,"y":534},{"x":1380,"y":510},{"x":1381,"y":460},{"x":1382.3,"y":436},{"x":1383.3,"y":448},{"x":1384.3,"y":430},{"x":1385.7,"y":460},{"x":1386.7,"y":473},{"x":1388,"y":485},{"x":1390,"y":473},{"x":1391.7,"y":470},{"x":1393.3,"y":467},{"x":1395,"y":467},{"x":1396,"y":491},{"x":1397.3,"y":522},{"x":1398.7,"y":519},{"x":1400,"y":516},{"x":1401.7,"y":519},{"x":1403.3,"y":513},{"x":1404.3,"y":540},{"x":1405.7,"y":556},{"x":1406.7,"y":553},{"x":1407.7,"y":516},{"x":1408.7,"y":473},{"x":1410,"y":442},{"x":1411.7,"y":417},{"x":1413.3,"y":399},{"x":1415,"y":387},{"x":1416.7,"y":374},{"x":1418.3,"y":374},{"x":1420,"y":337},{"x":1421,"y":276},{"x":1422,"y":245},{"x":1423.3,"y":251},{"x":1424.7,"y":196},{"x":1425.7,"y":190},{"x":1426.7,"y":227},{"x":1428.3,"y":245},{"x":1430,"y":276},{"x":1431.7,"y":282},{"x":1433.3,"y":313},{"x":1435,"y":350},{"x":1436.7,"y":344},{"x":1438.3,"y":344},{"x":1440,"y":337},{"x":1441.7,"y":331},{"x":1443.3,"y":325},{"x":1445,"y":337},{"x":1446.7,"y":356},{"x":1448.3,"y":368},{"x":1450,"y":368},
{"x":1451.7,"y":387},{"x":1453.3,"y":411},{"x":1455,"y":337},{"x":1456.7,"y":319},{"x":1458.3,"y":313},{"x":1460,"y":301},{"x":1461.7,"y":325},{"x":1463.3,"y":288},{"x":1465,"y":270},{"x":1466.7,"y":319},{"x":1468.3,"y":356},{"x":1470,"y":337},{"x":1471.7,"y":276},{"x":1473.3,"y":233},{"x":1475,"y":301},{"x":1476,"y":313},{"x":1477.3,"y":264},{"x":1478.7,"y":239},{"x":1480,"y":233},{"x":1481.7,"y":227},{"x":1483.3,"y":230},{"x":1485,"y":233},{"x":1486.7,"y":236},{"x":1488.3,"y":239},{"x":1490,"y":242},{"x":1491.7,"y":233},{"x":1492.7,"y":202},{"x":1494,"y":190},{"x":1495.3,"y":190},{"x":1496.7,"y":221},{"x":1498.3,"y":233},{"x":1500,"y":245},{"x":1501.7,"y":264},{"x":1503.3,"y":251},{"x":1505,"y":270},{"x":1506.7,"y":301},{"x":1508.3,"y":313},{"x":1510,"y":325},{"x":1511.7,"y":362},{"x":1512.7,"y":374},{"x":1514,"y":362},{"x":1515.3,"y":307},{"x":1516.7,"y":233},{"x":1517.7,"y":208},{"x":1518.7,"y":227},{"x":1520,"y":264},{"x":1521,"y":325},{"x":1522,"y":319},{"x":1523.3,"y":301},{"x":1525,"y":276},{"x":1526.7,"y":233},{"x":1528,"y":233},{"x":1529.3,"y":301},{"x":1530.7,"y":362},{"x":1532,"y":399},{"x":1533.3,"y":408},{"x":1535,"y":405},{"x":1536.7,"y":399},{"x":1538.3,"y":368},{"x":1539.3,"y":356},{"x":1540.7,"y":393},{"x":1542,"y":430},{"x":1543.3,"y":442},{"x":1544.7,"y":467},{"x":1546,"y":485},{"x":1547.3,"y":522},{"x":1548.7,"y":516},{"x":1550,"y":510},{"x":1551.3,"y":497},{"x":1552,"y":491},{"x":1552.7,"y":484},{"x":1554,"y":510},{"x":1555.3,"y":571},{"x":1556,"y":571},{"x":1557.3,"y":565},{"x":1558.3,"y":584},{"x":1559.3,"y":596},{"x":1560.7,"y":571},{"x":1562,"y":547},{"x":1563.3,"y":565},{"x":1564.7,"y":577},{"x":1566,"y":547},{"x":1566.7,"y":522},{"x":1567.7,"y":516},{"x":1568.7,"y":559},{"x":1570,"y":559},{"x":1571,"y":528},{"x":1572,"y":485},{"x":1573.3,"y":473},{"x":1575,"y":479},{"x":1576.7,"y":485},{"x":1578.3,"y":485},{"x":1580,"y":473},{"x":1581.7,"y":473},{"x":1583.3,"y":470},{"x":1585,"y":460},{"x":1586,"y":448},{"x":1587.3,"y":424},{"x":1588.3,"y":387},{"x":1589.3,"y":362},{"x":1590.7,"y":344},{"x":1592,"y":350},{"x":1593.3,"y":374},{"x":1595,"y":399},{"x":1596.7,"y":430},{"x":1598.3,"y":460},{"x":1600,"y":491},{"x":1601.7,"y":454},{"x":1602.7,"y":436},{"x":1604,"y":433},{"x":1605.3,"y":460},{"x":1606.7,"y":516},{"x":1607.7,"y":540},{"x":1608.7,"y":473},{"x":1610,"y":460},{"x":1611,"y":559},{"x":1612,"y":596},{"x":1613.3,"y":620},{"x":1614.3,"y":676},{"x":1615.3,"y":620},{"x":1616.7,"y":682},{"x":1618.3,"y":670},{"x":1620,"y":682},{"x":1621.7,"y":664},{"x":1623.3,"y":645},{"x":1625,"y":682},{"x":1626.7,"y":700},{"x":1628.3,"y":707},{"x":1630,"y":676},{"x":1631.7,"y":651},{"x":1633.3,"y":657},{"x":1635,"y":664},{"x":1636.7,"y":633},{"x":1637.7,"y":608},{"x":1639,"y":611},{"x":1640.3,"y":633},{"x":1641.7,"y":645},{"x":1643.3,"y":651},{"x":1645,"y":639},{"x":1646.7,"y":670},{"x":1648.3,"y":700},{"x":1650,"y":725},{"x":1651.7,"y":750},{"x":1653.3,"y":793},{"x":1654.3,"y":830},{"x":1655.3,"y":842},{"x":1656.3,"y":811},{"x":1657.3,"y":793},{"x":1658.7,"y":756},{"x":1660,"y":743},{"x":1661.3,"y":756},{"x":1662.7,"y":774},{"x":1664,"y":793},{"x":1665.3,"y":811},{"x":1666.7,"y":756},{"x":1668,"y":731},{"x":1669.3,"y":707},{"x":1670.7,"y":664},{"x":1672,"y":657},{"x":1673.3,"y":676},{"x":1675,"y":707},{"x":1676.7,"y":713},{"x":1678.3,"y":713},{"x":1680,"y":694},{"x":1681.7,"y":688},{"x":1683.3,"y":694},{"x":1685,"y":719},{"x":1686,"y":688},{"x":1687.3,"y":651},{"x":1688.7,"y":584},{"x":1690,"y":620},{"x":1691.3,"y":645},{"x":1692.7,"y":664},{"x":1694,"y":676},{"x":1695.3,"y":685},{"x":1696.7,"y":657},{"x":1698,"y":627},{"x":1699.3,"y":571},{"x":1700,"y":497},{"x":1701.3,"y":454},{"x":1702.7,"y":448},{"x":1703.3,"y":454},{"x":1705,"y":467},{"x":1706,"y":430},{"x":1707.3,"y":399},{"x":1708.3,"y":454},{"x":1709.3,"y":547},{"x":1710.7,"y":596},{"x":1712,"y":608},{"x":1713.3,"y":577},{"x":1714.3,"y":522},{"x":1715.3,"y":497},{"x":1716.7,"y":460},{"x":1718.3,"y":454},{"x":1719.3,"y":448},{"x":1720.7,"y":473},{"x":1722,"y":491},{"x":1723.3,"y":516},{"x":1725,"y":522},{"x":1726.7,"y":528},{"x":1728.3,"y":534},{"x":1730,"y":534}
],
"dots": [
{"k":"mid","y":488,"x1":15,"x2":38},{"k":"mid","y":488,"x1":69,"x2":118},{"k":"mid","y":488,"x1":153,"x2":160},{"k":"mid","y":488,"x1":207,"x2":220},{"k":"mid","y":488,"x1":234,"x2":235},{"k":"mid","y":488,"x1":297,"x2":318},{"k":"mid","y":488,"x1":351,"x2":355},{"k":"mid","y":488,"x1":373,"x2":408},{"k":"mid","y":488,"x1":420,"x2":421},{"k":"mid","y":488,"x1":450,"x2":458},{"k":"mid","y":488,"x1":504,"x2":539},{"k":"mid","y":488,"x1":547,"x2":548},{"k":"mid","y":488,"x1":595,"x2":618},{"k":"mid","y":488,"x1":645,"x2":650},{"k":"mid","y":488,"x1":679,"x2":702},{"k":"mid","y":488,"x1":735,"x2":792},{"k":"mid","y":488,"x1":838,"x2":839},{"k":"mid","y":488,"x1":863,"x2":890},{"k":"mid","y":488,"x1":933,"x2":964},{"k":"mid","y":488,"x1":994,"x2":995},{"k":"mid","y":488,"x1":1001,"x2":1010},{"k":"mid","y":488,"x1":1025,"x2":1046},{"k":"mid","y":488,"x1":1115,"x2":1129},{"k":"mid","y":488,"x1":1136,"x2":1146},{"k":"mid","y":488,"x1":1163,"x2":1166},{"k":"mid","y":488,"x1":1175,"x2":1190},{"k":"mid","y":488,"x1":1221,"x2":1279},{"k":"mid","y":488,"x1":1317,"x2":1354},{"k":"mid","y":488,"x1":1411,"x2":1418},{"k":"mid","y":488,"x1":1459,"x2":1470},{"k":"mid","y":488,"x1":1509,"x2":1513},{"k":"mid","y":488,"x1":1520,"x2":1552},{"k":"mid","y":488,"x1":1577,"x2":1588},{"k":"mid","y":488,"x1":1605,"x2":1612},{"k":"mid","y":488,"x1":1645,"x2":1652},{"k":"mid","y":488,"x1":1683,"x2":1704},{"k":"mid","y":488,"x1":1713,"x2":1730},
{"k":"hi","y":324,"x1":120,"x2":122},{"k":"hi","y":324,"x1":237,"x2":245},{"k":"hi","y":324,"x1":313,"x2":318},{"k":"hi","y":324,"x1":359,"x2":360},{"k":"hi","y":324,"x1":411,"x2":412},{"k":"hi","y":324,"x1":462,"x2":463},{"k":"hi","y":324,"x1":705,"x2":710},{"k":"hi","y":324,"x1":795,"x2":806},{"k":"hi","y":324,"x1":1049,"x2":1051},{"k":"hi","y":324,"x1":1149,"x2":1150},{"k":"hi","y":324,"x1":1193,"x2":1195},{"k":"hi","y":324,"x1":1283,"x2":1288},{"k":"hi","y":324,"x1":1357,"x2":1361},{"k":"hi","y":324,"x1":1421,"x2":1428},{"k":"hi","y":324,"x1":1473,"x2":1484},{"k":"hi","y":324,"x1":1591,"x2":1592},{"k":"hi","y":324,"x1":1706,"x2":1707},
{"k":"lo","y":652,"x1":41,"x2":44},{"k":"lo","y":652,"x1":163,"x2":166},{"k":"lo","y":652,"x1":223,"x2":224},{"k":"lo","y":652,"x1":321,"x2":328},{"k":"lo","y":652,"x1":388,"x2":389},{"k":"lo","y":652,"x1":423,"x2":424},{"k":"lo","y":652,"x1":543,"x2":552},{"k":"lo","y":652,"x1":621,"x2":622},{"k":"lo","y":652,"x1":653,"x2":654},{"k":"lo","y":652,"x1":842,"x2":843},{"k":"lo","y":652,"x1":893,"x2":900},{"k":"lo","y":652,"x1":967,"x2":970},{"k":"lo","y":652,"x1":1012,"x2":1014},{"k":"lo","y":652,"x1":1169,"x2":1170},{"k":"lo","y":652,"x1":1555,"x2":1556},{"k":"lo","y":652,"x1":1615,"x2":1625},{"k":"lo","y":652,"x1":1655,"x2":1656}
]
},
"layer": [
{
"data": {"name": "bars"},
"mark": {"type": "rule", "color": "#22DD22", "strokeWidth": 2},
"encoding": {
"x": {"field": "x", "type": "quantitative", "scale": {"domain": [0, 1730], "nice": false, "zero": false}, "axis": null},
"y": {"field": "top", "type": "quantitative", "scale": {"domain": [0, 1005], "reverse": true, "nice": false, "zero": false}, "axis": null},
"y2": {"field": "bot"}
}
},
{
"data": {"name": "osc"},
"transform": [
{"window": [{"op": "lead", "field": "x", "as": "x2"}, {"op": "lead", "field": "y", "as": "y2"}], "sort": [{"field": "x", "order": "ascending"}]},
{"filter": "datum.x2 != null"}
],
"mark": {"type": "rule", "strokeWidth": 1.2, "strokeCap": "round"},
"encoding": {
"x": {"field": "x", "type": "quantitative", "axis": null},
"x2": {"field": "x2"},
"y": {"field": "y", "type": "quantitative", "axis": null},
"y2": {"field": "y2"},
"color": {"condition": {"test": "datum.y < 488 || datum.y2 < 488", "value": "#FFD700"}, "value": "#0000FF"}
}
},
{
"data": {"name": "dots"},
"mark": {"type": "rule", "strokeWidth": 6, "strokeCap": "round"},
"encoding": {
"x": {"field": "x1", "type": "quantitative", "axis": null},
"x2": {"field": "x2"},
"y": {"field": "y", "type": "quantitative", "axis": null},
"color": {"field": "k", "type": "nominal", "scale": {"domain": ["mid", "hi", "lo"], "range": ["#00FFFF", "#AFEEEE", "#1E90FF"]}, "legend": null}
}
}
]
}
